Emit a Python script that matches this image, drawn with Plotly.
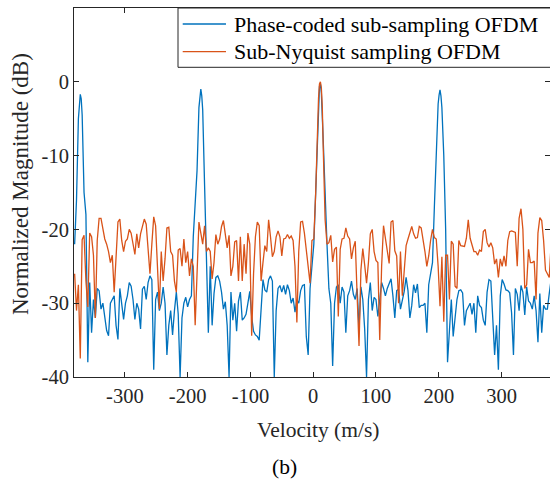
import numpy as np
import plotly.graph_objects as go

# velocity grid (m/s), step 3
velocity = np.arange(-380, 380, 3)

blue_db = [
    # -380 .. -257
    -22, -16, -5, -1.7, -4.5, -15, -18, -38, -27.2, -34,
    -29.5, -32, -28, -28.3, -30.8, -30, -32, -33.7, -34.4, -30,
    -29.5, -29, -33, -34.9, -28, -30.4, -32.2, -30, -29, -27.2,
    -27.7, -29.5, -32.2, -30, -30.8, -33.5, -28.1, -27.7, -29.5, -27.2,
    -26.3, -26.8,
    # -254 .. -137
    -39, -29.5, -28.5, -31, -30, -27.8, -30, -37, -33, -31,
    -34.3, -31, -28.5, -31.5, -40, -32, -30, -29.2, -30.5, -29.5,
    -29, -21, -16, -12, -3.5, -1, -3.8, -14, -23.6, -34,
    -25, -33, -28.7, -26.5, -26.3, -27, -28.5, -30.8, -29.8, -33,
    # -134 .. -8
    -40, -28.5, -32.3, -30, -33.8, -29.7, -28.5, -32.3, -32, -31.5,
    -30, -28.4, -31.8, -33.8, -34.3, -34.5, -35, -30, -26.8, -28.2,
    -28.5, -26.8, -26.3, -27, -40, -31, -28, -27.6, -28.5, -27.6,
    -28.8, -27.5, -28.3, -30, -29.3, -31.2, -29.5, -30, -28.3, -27.6,
    -27.5, -34.5, -37,
    # -5 .. 115
    -28, -24.5, -22, -15, -6, -0.6, -1.5, -8, -16, -22,
    -28, -30, -38.5, -30, -27.8, -27.5, -30, -27.8, -28.5, -34,
    -29, -28.3, -27, -28.8, -29.5, -28, -33.4, -27.8, -29.5, -33.5,
    -40, -29.5, -27.2, -31, -29.2, -29.5, -31.8, -29, -27.2, -28,
    -29,
    # 118 .. 238
    -28, -27.4, -26.7, -29, -32, -28.3, -28.1, -30.8, -29.7, -28.4,
    -26.5, -28.3, -32, -30.3, -27.5, -28.6, -27.4, -30.6, -30.3, -30.3,
    -30, -34, -27.5, -26, -24.5, -17, -9, -3, -1.1, -3.5,
    -10, -20, -38, -34, -29.5, -34.5, -32, -29.5, -28.3, -28.2,
    -28.6,
    # 241 .. 379
    -33, -31, -30.4, -30, -31.5, -30, -34, -29, -30.3, -30.6,
    -32.3, -33, -28.5, -26.8, -27, -31.4, -37, -33, -39, -29,
    -26.8, -27.4, -28.2, -28.3, -28.6, -31.3, -37, -28, -28.8, -31,
    -27.6, -28.5, -31.6, -27.8, -29.7, -30, -30.8, -29, -31, -35.3,
    -28.7, -34, -30.3, -30.8, -30.8, -28.7, -26.8,
]

orange_db = [
    # -380 .. -257
    -26, -31, -27.5, -37.5, -21.4, -20.8, -27, -30.5, -20.5, -21,
    -23.5, -32, -21.5, -18.5, -18.5, -20, -21.3, -22, -23, -24.5,
    -23.5, -28.5, -23, -19, -18.6, -21.5, -23, -21.6, -21.3, -20,
    -20.5, -22, -23.4, -20.6, -22.5, -20.6, -19.5, -18.6, -19.3, -22.5,
    -26, -22,
    # -254 .. -137
    -18.3, -19.5, -24.5, -30.8, -23, -27, -24, -19.8, -19.7, -23,
    -23.5, -27, -28.5, -22.8, -22.6, -25, -21.3, -24.5, -23, -26.3,
    -24, -25, -33, -25, -19, -20.5, -22, -19.5, -23, -22.5,
    -23, -26.7, -24.5, -20.7, -22, -21.3, -19.6, -18.8, -20.5, -22.5,
    # -134 .. -8
    -20.8, -26.3, -25, -21.7, -21.5, -27, -21, -27, -22, -26,
    -20.5, -22, -34.4, -26, -21, -19, -19.5, -27, -24.5, -22.2,
    -23, -18.7, -21, -23.7, -23, -21, -20.2, -21, -23.6, -21.3,
    -21.2, -20.7, -21.2, -20.9, -21.5, -25, -32.6, -23, -19, -18.9,
    -20.5, -23, -24.5,
    # -5 .. 115
    -27.3, -21.5, -21.3, -15, -5, -0.3, -0.8, -9, -18.7, -22,
    -21.8, -20.8, -24.4, -22.7, -22.4, -31.8, -22.7, -21.3, -21.2, -19.8,
    -20.9, -21.3, -24, -22.5, -21.6, -29, -35.8, -25.5, -22.6, -24.8,
    -27.3, -24.5, -20.6, -20, -23, -24.2, -24.5, -35, -25, -19.5,
    -21.3,
    # 118 .. 238
    -22.7, -24.6, -19, -18.8, -22.9, -23.6, -30, -23, -29, -26,
    -22.2, -21.3, -20.5, -19.6, -20.6, -21.2, -21.1, -19.6, -19.8, -21.2,
    -23, -25, -23.6, -21.5, -20, -21.1, -21.3, -25, -30.4, -23.7,
    -32.5, -23.5, -23.5, -29.5, -21.6, -22, -27.7, -28, -21.5, -22.2,
    -22.2,
    # 241 .. 379
    -22.3, -21.2, -18.7, -21.2, -22.2, -23, -23, -23.5, -22.8, -23,
    -20.3, -20, -21.8, -22.4, -21.8, -22.5, -24.7, -24, -26.5, -24,
    -25, -23.6, -25, -21.5, -20.3, -20.2, -20.3, -20.4, -25, -18.5,
    -17.2, -20, -28, -27.5, -22.7, -24.5, -24.5, -24.3, -29.5, -20.5,
    -18.4, -18.8, -21.5, -25.5, -26, -26.5, -22,
]

# extra samples on the main lobes
blue_peak_v = [-372.5, -369.5, -180.5, -177.5, 8.5, 11.5, 200.5, 203.5]
blue_peak_db = [-2.6, -2.3, -1.6, -1.9, -2.5, -0.3, -1.8, -1.9]
orange_peak_v = [8.5, 11.5, 14.5]
orange_peak_db = [-2.2, 0.0, -3.5]

x_tickvals = [-300, -200, -100, 0, 100, 200, 300]
x_ticktext = ["-300", "-200", "-100", "0", "100", "200", "300"]
y_tickvals = [-40, -30, -20, -10, 0, 10]
y_ticktext = ["-40", "-30", "-20", "-10", "0", "10"]

series_names = ["Phase-coded sub-sampling OFDM", "Sub-Nyquist sampling OFDM"]
series_colors = ["#0072BD", "#D95319"]


def merged(vals, pv, pdb):
    xv = np.concatenate([velocity, np.array(pv, dtype=float)])
    yv = np.concatenate([np.array(vals, dtype=float), np.array(pdb, dtype=float)])
    order = np.argsort(xv, kind="stable")
    return xv[order], yv[order]


bx, by = merged(blue_db, blue_peak_v, blue_peak_db)
ox, oy = merged(orange_db, orange_peak_v, orange_peak_db)

FONT = "Liberation Serif"
AX = "#262626"

fig = go.Figure()
fig.add_trace(go.Scatter(x=bx, y=by, mode="lines", name=series_names[0],
                         line=dict(color=series_colors[0], width=1.3)))
fig.add_trace(go.Scatter(x=ox, y=oy, mode="lines", name=series_names[1],
                         line=dict(color=series_colors[1], width=1.3)))

axis_common = dict(showgrid=False, zeroline=False, showline=True, linecolor=AX,
                   linewidth=1, mirror="ticks", ticks="inside", ticklen=5,
                   tickcolor=AX, tickwidth=1,
                   tickfont=dict(family=FONT, size=20.5, color=AX))

# legend box (drawn in paper coordinates, MATLAB style)
leg_x0, leg_x1, leg_y0, leg_y1 = 0.2185, 1.02, 0.8393, 1.0
row_y = [0.9566, 0.8816]
sample_x0, sample_x1, text_x = 0.2284, 0.3193, 0.3319

shapes = [dict(type="rect", xref="paper", yref="paper", x0=leg_x0, x1=leg_x1,
               y0=leg_y0, y1=leg_y1, fillcolor="white",
               line=dict(color=AX, width=1), layer="above")]
annotations = []
for name, col, ry in zip(series_names, series_colors, row_y):
    shapes.append(dict(type="line", xref="paper", yref="paper", x0=sample_x0,
                       x1=sample_x1, y0=ry, y1=ry, line=dict(color=col, width=1.3),
                       layer="above"))
    annotations.append(dict(text=name, xref="paper", yref="paper", x=text_x, y=ry,
                            xanchor="left", yanchor="middle", showarrow=False,
                            font=dict(family=FONT, size=22, color="#000000")))

annotations += [
    dict(text="Velocity (m/s)", xref="paper", yref="paper", x=0.5126, y=-0.1436,
         xanchor="center", yanchor="middle", showarrow=False,
         font=dict(family=FONT, size=21.5, color=AX)),
    dict(text="Normalized Magnitude (dB)", xref="paper", yref="paper",
         x=-0.1134, y=0.523, xanchor="center", yanchor="middle", textangle=-90,
         showarrow=False, font=dict(family=FONT, size=23, color=AX)),
    dict(text="(b)", xref="paper", yref="paper", x=0.4412, y=-0.2439,
         xanchor="center", yanchor="middle", showarrow=False,
         font=dict(family=FONT, size=21.5, color="#000000")),
]

fig.update_layout(
    width=550, height=481,
    margin=dict(l=74, r=0, t=8, b=104),
    paper_bgcolor="white", plot_bgcolor="white",
    font=dict(family=FONT, color=AX),
    showlegend=False,
    xaxis=dict(range=[-381, 377.2], tickvals=x_tickvals, ticktext=x_ticktext,
               **axis_common),
    yaxis=dict(range=[-40, 10], tickvals=y_tickvals, ticktext=y_ticktext,
               **axis_common),
    shapes=shapes,
    annotations=annotations,
)

fig.write_html("out.html")
